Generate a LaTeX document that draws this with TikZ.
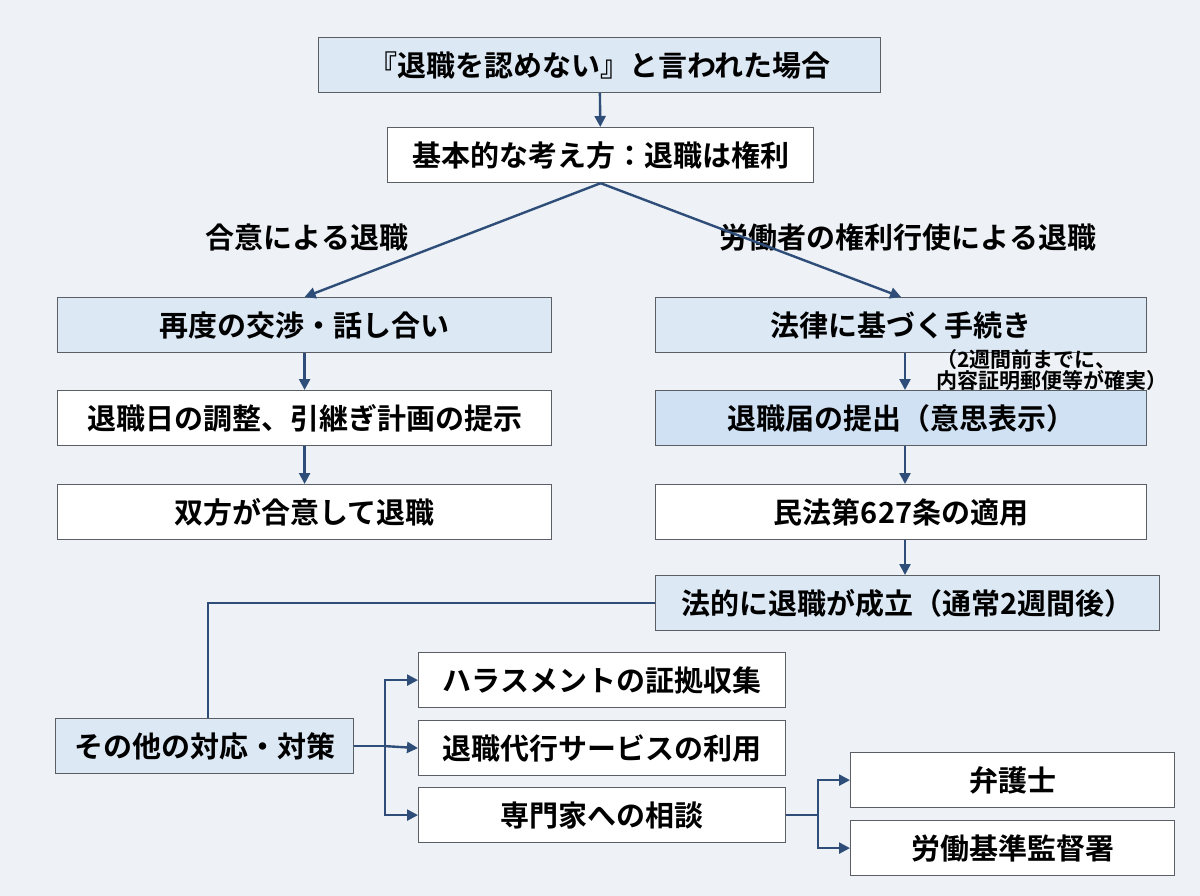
\documentclass[tikz,border=0pt]{standalone}
\usepackage{fontspec}
\setmainfont{Noto Sans CJK JP}[BoldFont={Noto Sans CJK JP Bold}]
\usetikzlibrary{arrows.meta}
\definecolor{bgcol}{HTML}{EEF2F6}
\definecolor{boxblue}{HTML}{DCE8F4}
\definecolor{boxblue2}{HTML}{CFE1F3}
\definecolor{navy}{HTML}{2E4D78}
\definecolor{edge}{HTML}{5A5F66}
\tikzset{
  box/.style={draw=edge, line width=1.2pt, fill=white, font=\fontsize{29}{32}\selectfont\bfseries},
  bluebox/.style={box, fill=boxblue},
  conn/.style={draw=navy, line width=2.4pt},
  arr/.style={conn, -{Triangle[length=11pt,width=11pt]}},
  lbl/.style={font=\fontsize{29}{32}\selectfont\bfseries}
}
\newcommand{\boxat}[5]{% style, name, top left corner, width, text
  \node[#1, minimum width=#4, minimum height=55pt, anchor=north west, inner sep=0pt] (#2) at (#3) {#5};}
\begin{document}
\begin{tikzpicture}[x=1pt,y=-1pt]
  \fill[bgcol] (0,0) rectangle (1200,896);
  \useasboundingbox (0,0) rectangle (1200,896);

  % top part
  \boxat{bluebox}{start}{318,37}{562pt}{『退職を認めない』と言われた場合}
  \boxat{box}{basic}{387,127}{426pt}{基本的な考え方：退職は権利}

  % left branch
  \boxat{bluebox}{nego}{57,297}{494pt}{再度の交渉・話し合い}
  \boxat{box}{adjust}{57,390}{494pt}{退職日の調整、引継ぎ計画の提示}
  \boxat{box}{agree}{57,484}{494pt}{双方が合意して退職}

  % right branch
  \boxat{bluebox}{law}{655,297}{491pt}{法律に基づく手続き}
  \boxat{bluebox, fill=boxblue2}{notice}{655,390}{491pt}{退職届の提出（意思表示）}
  \boxat{box}{civil}{655,484}{491pt}{民法第627条の適用}
  \boxat{bluebox}{valid}{655,575}{504pt}{法的に退職が成立（通常2週間後）}

  % other measures
  \boxat{bluebox}{other}{55,718}{298pt}{その他の対応・対策}
  \boxat{box}{harass}{418,652}{367pt}{ハラスメントの証拠収集}
  \boxat{box}{agency}{418,720}{367pt}{退職代行サービスの利用}
  \boxat{box}{expert}{418,787}{367pt}{専門家への相談}
  \boxat{box}{lawyer}{850,752}{324pt}{弁護士}
  \boxat{box}{office}{850,820}{324pt}{労働基準監督署}

  % labels
  \node[lbl] (lblL) at (307,237) {合意による退職};
  \node[lbl] (lblR) at (908,237) {労働者の権利行使による退職};
  \node[font=\fontsize{21}{21}\selectfont\bfseries, align=left] (memo) at (1052,370)
    {（2週間前までに、\\ 内容証明郵便等が確実）};

  % connectors
  \draw[arr] (start) -- (basic);
  \draw[arr] (basic.south) -- (nego.north);
  \draw[arr] (basic.south) -- (law.north);
  \draw[arr] (nego) -- (adjust);
  \draw[arr] (adjust) -- (agree);
  \draw[arr] (law.south -| 905,0) -- (notice.north -| 905,0);
  \draw[arr] (notice.south -| 905,0) -- (civil.north -| 905,0);
  \draw[arr] (civil.south -| 905,0) -- (valid.north -| 905,0);
  \draw[conn] (valid.west) -| (other.north -| 208,0);

  \coordinate (fork) at (385,0);
  \draw[conn] (other.east) -- (other.east -| fork);
  \draw[arr] (other.east -| fork) |- (harass.west);
  \draw[arr] (other.east -| fork) -- (agency.west);
  \draw[arr] (other.east -| fork) |- (expert.west);
  \coordinate (fork2) at (818,0);
  \draw[conn] (expert.east) -- (expert.east -| fork2);
  \draw[arr] (expert.east -| fork2) |- (lawyer.west);
  \draw[arr] (expert.east -| fork2) |- (office.west);
\end{tikzpicture}
\end{document}
